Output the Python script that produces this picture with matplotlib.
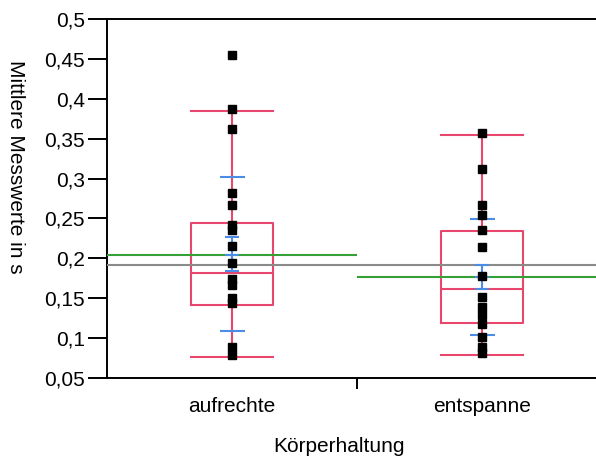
import matplotlib
matplotlib.use("Agg")
import matplotlib.pyplot as plt

plt.rcParams['font.family'] = ['Liberation Sans', 'DejaVu Sans']

categories = ["aufrechte", "entspanne"]
x_title = "Körperhaltung"
y_title = "Mittlere Messwerte in s"
y_ticks = [0.05, 0.1, 0.15, 0.2, 0.25, 0.3, 0.35, 0.4, 0.45, 0.5]
y_tick_labels = ["0,05", "0,1", "0,15", "0,2", "0,25", "0,3", "0,35", "0,4", "0,45", "0,5"]

points_aufrechte = [0.4549, 0.3872, 0.3621, 0.2819, 0.2672, 0.2418, 0.2349, 0.2155,
                    0.1942, 0.1735, 0.1666, 0.1509, 0.1440, 0.0883, 0.0789]
points_entspanne = [0.3575, 0.3120, 0.2669, 0.2539, 0.2355, 0.2146, 0.1782, 0.1515,
                    0.1390, 0.1284, 0.1171, 0.1018, 0.0889, 0.0814]

box_q1 = [0.1411, 0.1194]
box_median = [0.1816, 0.1616]
box_q3 = [0.2443, 0.2339]
whisker_low = [0.0763, 0.0788]
whisker_high = [0.3847, 0.3546]

group_mean = [0.2038, 0.1766]
sd_upper = [0.3020, 0.2493]
sd_lower = [0.1090, 0.1035]
se_upper = [0.2264, 0.1916]
se_lower = [0.1846, 0.1616]
grand_mean = 0.1912

RED = "#E8466C"
BLUE = "#4C8BE6"
GREEN = "#35A035"
GRAY = "#8A8A8A"
FS = 15

fig = plt.figure(figsize=(5.96, 4.58), dpi=100)
ax = fig.add_axes([107/596, 80/458, 500/596, 359/458])
ax.set_xlim(0, 2)
ax.set_ylim(0.05, 0.5)

centers = [0.5, 1.5]
stats = []
for i in range(2):
    stats.append(dict(med=box_median[i], q1=box_q1[i], q3=box_q3[i],
                      whislo=whisker_low[i], whishi=whisker_high[i], fliers=[]))
lw = 1.5
ax.bxp(stats, positions=centers, widths=0.33, capwidths=0.33, showfliers=False,
       boxprops=dict(color=RED, linewidth=lw),
       whiskerprops=dict(color=RED, linewidth=lw),
       capprops=dict(color=RED, linewidth=lw),
       medianprops=dict(color=RED, linewidth=lw),
       manage_ticks=False, zorder=2)

# grand mean and group means
ax.hlines(grand_mean, 0, 2, color=GRAY, linewidth=lw, zorder=3)
for i in range(2):
    ax.hlines(group_mean[i], i, i + 1, color=GREEN, linewidth=lw, zorder=3)
    c = centers[i]
    ax.hlines([sd_upper[i], sd_lower[i]], c - 0.05, c + 0.05, color=BLUE, linewidth=lw, zorder=4)
    ax.hlines([se_upper[i], se_lower[i], group_mean[i]], c - 0.027, c + 0.027,
              color=BLUE, linewidth=lw, zorder=4)
    ax.vlines(c, se_lower[i], se_upper[i], color=BLUE, linewidth=lw, zorder=4)

ax.plot([centers[0]] * len(points_aufrechte), points_aufrechte, 's', color='black',
        markersize=5.3, zorder=5, linestyle='none')
ax.plot([centers[1]] * len(points_entspanne), points_entspanne, 's', color='black',
        markersize=5.3, zorder=5, linestyle='none')

for s in ['left', 'bottom', 'top', 'right']:
    ax.spines[s].set_linewidth(1.4)
    ax.spines[s].set_color('black')

ax.set_yticks(y_ticks, labels=y_tick_labels)
ax.tick_params(axis='y', length=14, width=1.4, pad=2, labelsize=FS)
ax.set_xticks([1.0], labels=[""])
ax.tick_params(axis='x', which='major', length=8, width=1.4)
ax.set_xticks(centers, labels=categories, minor=True)
ax.tick_params(axis='x', which='minor', length=0, pad=14, labelsize=FS)

fig.text(15/596, 1 - 167/458, y_title, rotation=-90, ha='center', va='center', fontsize=FS)
fig.text(339/596, 1 - 446/458, x_title, ha='center', va='center', fontsize=FS)

fig.savefig("out.png", dpi=100)
